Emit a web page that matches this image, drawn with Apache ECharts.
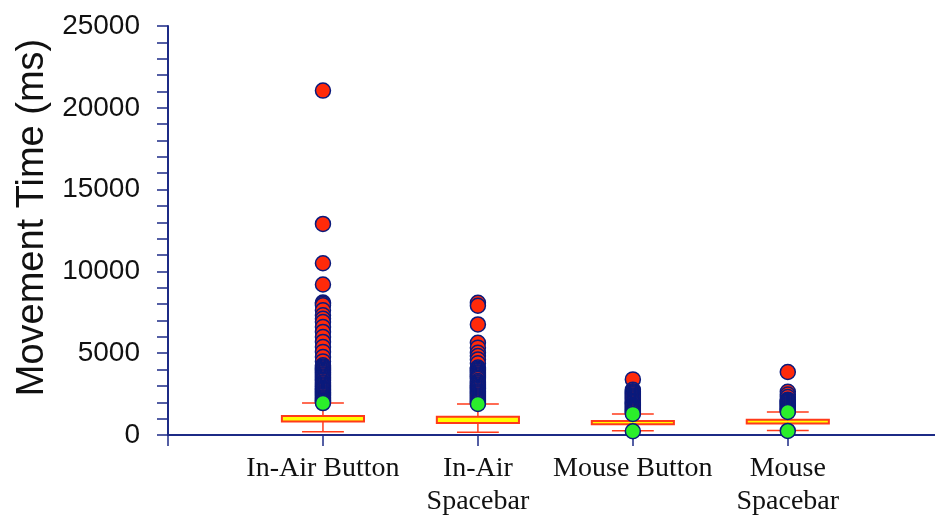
<!DOCTYPE html>
<html>
<head>
<meta charset="utf-8">
<script src="https://cdn.jsdelivr.net/npm/echarts@6/dist/echarts.min.js"></script>
<style>
  html, body { margin: 0; padding: 0; background: #ffffff; }
  #chart { width: 935px; height: 518px; }
</style>
</head>
<body>
<div id="chart"></div>
<script>
// Conditions on the horizontal axis
const categories = ['In-Air Button', 'In-Air\nSpacebar', 'Mouse Button', 'Mouse\nSpacebar'];

// Box statistics (ms)
const lowerWhisker = [200, 170, 260, 270];
const q1 = [830, 740, 650, 710];
const q3 = [1160, 1120, 860, 930];
const upperWhisker = [1950, 1900, 1290, 1400];

// Green markers at the whisker ends (ms)
const greenMarks = [
  [1950],
  [1900],
  [1290, 230],
  [1410, 250]
];

// Outlying trials per condition, largest first (ms)
const outliersInAirButton = [
  21050, 12900, 10500, 9200, 8100, 8020, 7930, 7620, 7320, 7110, 6900, 6600,
  6300, 5990, 5690, 5380, 5080, 4770, 4500, 4260, 4190, 4120, 4060, 3990,
  3920, 3850, 3790, 3720, 3650, 3580, 3520, 3450, 3380, 3310, 3230, 3160,
  3090, 3030, 2960, 2890, 2830, 2760, 2700, 2630, 2570, 2500, 2440, 2380,
  2310, 2250, 2190, 2130, 2080, 2030
];
const outliersInAirSpacebar = [
  8080, 7900, 6760, 5640, 5340, 5030, 4830, 4620, 4380, 4120, 4050, 3980,
  3910, 3840, 3770, 3700, 3640, 3570, 3500, 3420, 3300, 3230, 3160, 3090,
  3020, 2950, 2880, 2820, 2750, 2680, 2620, 2550, 2490, 2420, 2360, 2290,
  2230, 2170, 2110, 2050, 1990
];
const outliersMouseButton = [
  3400, 2760, 2680, 2620, 2550, 2490, 2420, 2360, 2290, 2230, 2170, 2100,
  2040, 1980, 1920, 1850, 1790, 1730, 1670, 1610, 1550, 1490, 1430, 1370
];
const outliersMouseSpacebar = [
  3850, 2640, 2470, 2320, 2160, 2090, 2030, 1970, 1900, 1840, 1780, 1710,
  1650, 1590, 1530, 1470
];
const outliers = [outliersInAirButton, outliersInAirSpacebar, outliersMouseButton, outliersMouseSpacebar];

const yTickLabels = [0, 5000, 10000, 15000, 20000, 25000];

const NAVY = '#1C2A86';
const BOX_RED = '#FF3A1A';

const boxData = categories.map((c, i) => [i + 1, lowerWhisker[i], q1[i], q3[i], upperWhisker[i]]);
const outlierData = [];
outliers.forEach((list, i) => list.forEach(v => outlierData.push([i + 1, v])));
const greenData = [];
greenMarks.forEach((list, i) => list.forEach(v => greenData.push([i + 1, v])));

const chart = echarts.init(document.getElementById('chart'), null, { renderer: 'canvas' });

chart.setOption({
  animation: false,
  backgroundColor: '#ffffff',
  grid: { left: 168, right: 0, top: 26, bottom: 83, containLabel: false },
  xAxis: {
    type: 'value',
    min: 0,
    max: 4.95,
    interval: 1,
    splitLine: { show: false },
    axisLine: { show: true, onZero: false, lineStyle: { color: NAVY, width: 2 } },
    axisTick: { show: true, length: 11, lineStyle: { color: NAVY, width: 1.5 } },
    axisLabel: {
      margin: 17,
      color: '#111111',
      fontFamily: 'Liberation Serif',
      fontSize: 28,
      lineHeight: 33,
      showMinLabel: true,
      showMaxLabel: false,
      formatter: v => {
        const i = Math.round(v) - 1;
        return (i >= 0 && i < categories.length && Math.abs(v - (i + 1)) < 1e-6) ? categories[i] : '';
      }
    }
  },
  yAxis: {
    type: 'value',
    min: 0,
    max: 25000,
    interval: 1000,
    name: 'Movement Time (ms)',
    nameLocation: 'middle',
    nameRotate: 90,
    nameGap: 116,
    nameTextStyle: { color: '#111111', fontFamily: 'Liberation Sans', fontSize: 38, padding: [0, 0, 0, 26] },
    splitLine: { show: false },
    axisLine: { show: true, lineStyle: { color: NAVY, width: 2 } },
    axisTick: { show: true, length: 11, lineStyle: { color: NAVY, width: 1.5 } },
    axisLabel: {
      margin: 28,
      color: '#111111',
      fontFamily: 'Liberation Sans',
      fontSize: 28,
      formatter: v => (yTickLabels.indexOf(v) >= 0 ? String(v) : '')
    }
  },
  series: [
    {
      type: 'custom',
      silent: true,
      data: boxData,
      encode: { x: 0, y: [1, 2, 3, 4] },
      renderItem: (params, api) => {
        const x = api.value(0);
        const lo = api.coord([x, api.value(1)]);
        const b1 = api.coord([x, api.value(2)]);
        const b3 = api.coord([x, api.value(3)]);
        const hi = api.coord([x, api.value(4)]);
        const unit = api.size([1, 0])[0];
        const boxW = unit * 0.53;
        const capW = unit * 0.27;
        const cx = lo[0];
        const line = { stroke: BOX_RED, lineWidth: 1.5 };
        return {
          type: 'group',
          children: [
            { type: 'line', shape: { x1: cx, y1: lo[1], x2: cx, y2: b1[1] }, style: line },
            { type: 'line', shape: { x1: cx, y1: b3[1], x2: cx, y2: hi[1] }, style: line },
            { type: 'line', shape: { x1: cx - capW / 2, y1: lo[1], x2: cx + capW / 2, y2: lo[1] }, style: line },
            { type: 'line', shape: { x1: cx - capW / 2, y1: hi[1], x2: cx + capW / 2, y2: hi[1] }, style: line },
            {
              type: 'rect',
              shape: { x: cx - boxW / 2, y: b3[1], width: boxW, height: b1[1] - b3[1] },
              style: { fill: '#FFFF00', stroke: BOX_RED, lineWidth: 2 }
            }
          ]
        };
      }
    },
    {
      type: 'scatter',
      silent: true,
      symbol: 'circle',
      symbolSize: 15,
      data: outlierData,
      itemStyle: { color: '#FF2A0A', borderColor: '#0A1A7C', borderWidth: 1.5, opacity: 1 }
    },
    {
      type: 'scatter',
      silent: true,
      symbol: 'circle',
      symbolSize: 15,
      data: greenData,
      itemStyle: { color: '#2BEE2B', borderColor: '#0A1A7C', borderWidth: 1.5, opacity: 1 }
    }
  ]
});
</script>
</body>
</html>
